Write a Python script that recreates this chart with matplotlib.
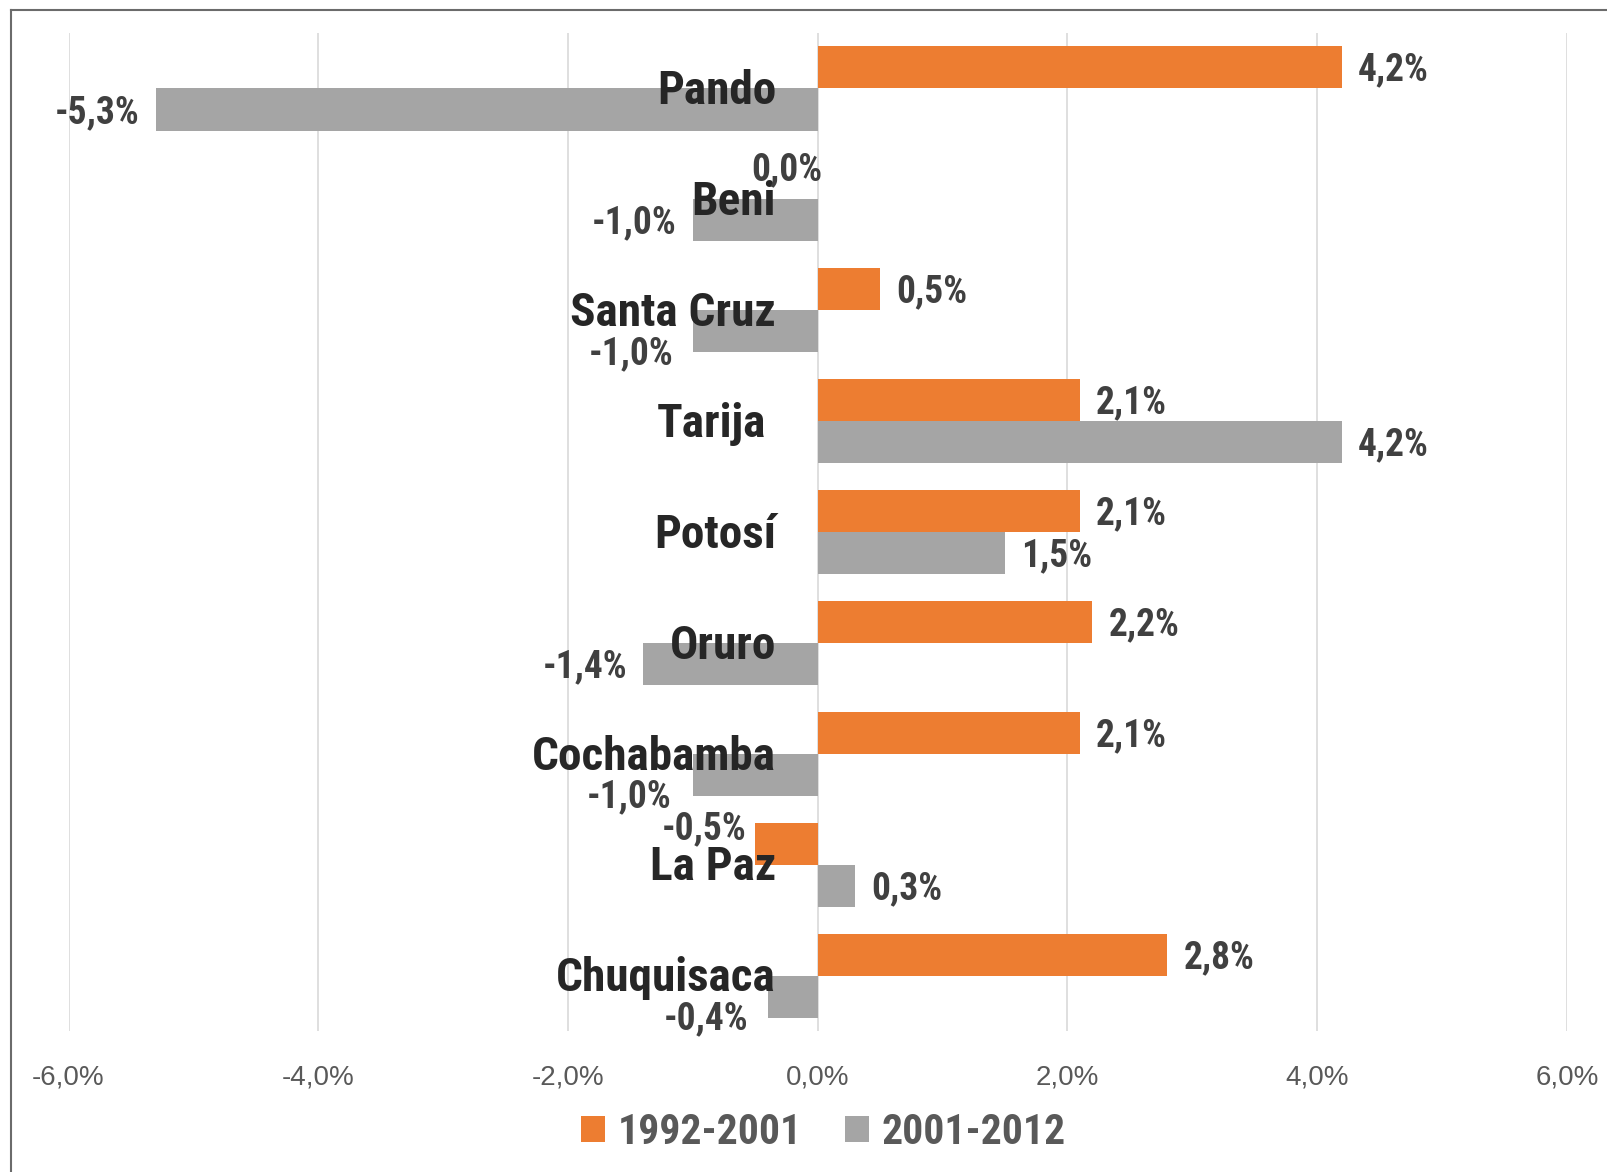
import matplotlib
matplotlib.use('Agg')
import matplotlib.pyplot as plt
from matplotlib.lines import Line2D
import numpy as np

departments = ['Pando', 'Beni', 'Santa Cruz', 'Tarija', 'Potosí', 'Oruro',
               'Cochabamba', 'La Paz', 'Chuquisaca']
period1 = [4.2, 0.0, 0.5, 2.1, 2.1, 2.2, 2.1, -0.5, 2.8]      # 1992-2001
period2 = [-5.3, -1.0, -1.0, 4.2, 1.5, -1.4, -1.0, 0.3, -0.4]  # 2001-2012
labels = ['1992-2001', '2001-2012']
xticks = [-6, -4, -2, 0, 2, 4, 6]

ORANGE = '#ED7D31'
GRAY = '#A5A5A5'
NARROW = ['Liberation Sans Narrow', 'Arial Narrow', 'Roboto Condensed',
          'Liberation Sans', 'DejaVu Sans']

def pct(v):
    return f'{v:.1f}%'.replace('.', ',')

fig = plt.figure(figsize=(16.08, 11.72), dpi=100)
ax = fig.add_axes([0.0426, 0.1203, 0.9318, 0.8515])

y = np.arange(len(departments))
h = 0.379
b1 = ax.barh(y - h / 2, period1, height=h, color=ORANGE, label=labels[0])
b2 = ax.barh(y + h / 2, period2, height=h, color=GRAY, label=labels[1])

ax.set_xlim(-6, 6)
ax.set_ylim(len(departments) - 0.5, -0.5)
ax.set_xticks(xticks)
ax.set_xticklabels([pct(t) for t in xticks], fontsize=20, color='#595959',
                   family=['Liberation Sans', 'DejaVu Sans'])
ax.tick_params(axis='x', length=0, pad=24)
ax.set_yticks([])
for s in ax.spines.values():
    s.set_visible(False)
ax.grid(axis='x', color='#D9D9D9', linewidth=1.2)
ax.set_axisbelow(True)

# category names, right aligned left of zero (Tarija sits a bit further left)
name_dx = {3: -37}
for i, name in enumerate(departments):
    ax.annotate(name, xy=(0, y[i]), xytext=(name_dx.get(i, -30), -2),
                textcoords='offset points', ha='right', va='center',
                fontsize=34, fontweight='bold', color='#262626', family=NARROW)

# value labels: default is outside end, a few were moved by hand
nudge1 = {1: (-22, 6, 'center'), 7: (-6, 11, 'right')}
nudge2 = {2: (-14, -16, 'right'), 6: (-15, -16, 'right'), 8: (-14, -16, 'right')}

def put_labels(vals, offs, nudge):
    for i, v in enumerate(vals):
        yi = y[i] + offs
        if i in nudge:
            dx, dy, ha = nudge[i]
        elif v >= 0:
            dx, dy, ha = 11.5, -2, 'left'
        else:
            dx, dy, ha = -11.5, -2, 'right'
        ax.annotate(pct(v), xy=(v, yi), xytext=(dx, dy), textcoords='offset points',
                    ha=ha, va='center', fontsize=27, fontweight='bold',
                    color='#404040', family=NARROW)

put_labels(period1, -h / 2, nudge1)
put_labels(period2, h / 2, nudge2)

fig.legend(handles=[b1, b2], labels=labels, loc='center', bbox_to_anchor=(0.512, 0.034),
           ncol=2, frameon=False, handlelength=0.58, handleheight=0.58,
           handletextpad=0.3, columnspacing=1.05,
           prop={'family': NARROW, 'weight': 'bold', 'size': 30},
           labelcolor='#595959')

# thin frame of the original screenshot (left and top edges)
fig.add_artist(Line2D([11 / 1608, 11 / 1608], [0, 1 - 10 / 1172], color='#6B6B6B',
                      linewidth=1.5, transform=fig.transFigure))
fig.add_artist(Line2D([11 / 1608, 1], [1 - 10 / 1172, 1 - 10 / 1172], color='#6B6B6B',
                      linewidth=1.5, transform=fig.transFigure))

fig.savefig('out.png', dpi=100)
